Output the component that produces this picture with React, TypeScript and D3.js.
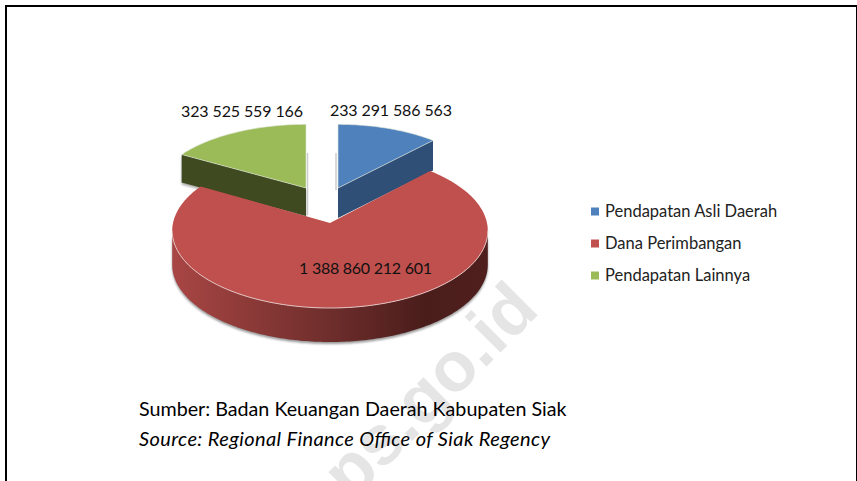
import React from 'react';
import * as d3 from 'd3';

const categories = ['Pendapatan Asli Daerah', 'Dana Perimbangan', 'Pendapatan Lainnya'];
const values = [233291586563, 1388860212601, 323525559166];
const valueLabels = ['233 291 586 563', '1 388 860 212 601', '323 525 559 166'];
const topColors = ['#4f81bd', '#c0504d', '#9bbb59'];
const sideColors = ['#2f4f77', '#7a3230', '#3f4a20'];

const W = 857;
const H = 481;

// where each exploded slice sits: apex, radii, thickness
const sliceLayout = [
  { cx: 338, cy: 188, rx: 149, ry: 70, depth: 30 },
  { cx: 330, cy: 223, rx: 157, ry: 76.5, depth: 34 },
  { cx: 306, cy: 188, rx: 151, ry: 70, depth: 28 },
];
const labelPos = [
  [391, 110],
  [365.5, 268],
  [242, 111],
];
const labelWidths = [122, 133, 122];

const persp = 0.1;

function project(a: number, s: (typeof sliceLayout)[number], dy = 0): [number, number] {
  const w = 1 + persp * Math.cos(a);
  return [s.cx + (s.rx * Math.sin(a)) / w, s.cy - (s.ry * Math.cos(a)) / w + dy];
}

export default function App() {
  const arcs = d3.pie<number>().sort(null)(values);
  const line = d3.line();

  const rim = (i: number, dy = 0) => {
    const { startAngle, endAngle } = arcs[i];
    const n = Math.ceil((endAngle - startAngle) * 60);
    return d3.range(n + 1).map((k) => project(startAngle + ((endAngle - startAngle) * k) / n, sliceLayout[i], dy));
  };
  const top = (i: number) => {
    const s = sliceLayout[i];
    return line([[s.cx, s.cy], ...rim(i)]) + 'Z';
  };

  // red rim wall, only the part facing the viewer
  const redRim = rim(1);
  const iMax = d3.maxIndex(redRim, (d) => d[0]);
  const iMin = d3.minIndex(redRim, (d) => d[0]);
  const front = redRim.slice(iMax, iMin + 1);
  const redDepth = sliceLayout[1].depth;
  const redWall =
    line([...front, ...front.map(([x, y]) => [x, y + redDepth] as [number, number]).reverse()]) + 'Z';
  const redX = d3.extent(front, (d) => d[0]) as [number, number];

  // straight cut faces of the two small slices
  const cutFace = (i: number, a: number) => {
    const s = sliceLayout[i];
    const p = project(a, s);
    return line([[s.cx, s.cy], p, [p[0], p[1] + s.depth], [s.cx, s.cy + s.depth]]) + 'Z';
  };

  const legendY = d3.scalePoint<string>().domain(categories).range([211.5, 275.5]);

  return (
    <svg
      width={W}
      height={H}
      style={{ position: 'absolute', left: 0, top: 0, background: '#fff', fontFamily: 'Lato, Carlito, sans-serif' }}
    >
      <defs>
        <linearGradient id="redWall" gradientUnits="userSpaceOnUse" x1={redX[0]} x2={redX[1]} y1={0} y2={0}>
          <stop offset="0" stopColor="#a84644" />
          <stop offset="0.45" stopColor="#74302e" />
          <stop offset="0.8" stopColor="#4a1d1b" />
          <stop offset="1" stopColor="#4f1f1d" />
        </linearGradient>
        <filter id="soft" x="-10%" y="-10%" width="120%" height="120%">
          <feGaussianBlur stdDeviation="1.2" />
        </filter>
      </defs>

      <text
        transform="translate(541,312) rotate(-45)"
        textAnchor="end"
        fontSize={70}
        fontWeight={700}
        fontFamily="'Liberation Sans', Arial, sans-serif"
        fill="#e5e5e5"
      >
        bps.go.id
      </text>

      <path d={`M6,${H}V6H${W}`} fill="none" stroke="#000" strokeWidth={2} />
      <path d={`M${W - 0.5},6V${H}`} fill="none" stroke="#000" strokeWidth={1} />

      <path d={redWall} transform="translate(0,2)" fill="#999" filter="url(#soft)" />

      {/* grey hairlines of the cut faces on either side of the gap */}
      <path d={`M307.5,153V215`} stroke="#ccc" strokeWidth={1.5} fill="none" />
      <path d={`M336,153V190`} stroke="#ccc" strokeWidth={1.5} fill="none" />

      {[0, 2].map((i) => (
        <g key={i}>
          {i === 2 && (
            <path
              d={cutFace(2, arcs[2].startAngle)}
              transform="translate(0,2)"
              fill="#aaa"
              filter="url(#soft)"
            />
          )}
          <path d={cutFace(i, i === 0 ? arcs[0].endAngle : arcs[2].startAngle)} fill={sideColors[i]} />
          <path d={top(i)} fill={topColors[i]} stroke="#dfe6d8" strokeWidth={0.6} />
        </g>
      ))}

      <path d={redWall} fill="url(#redWall)" />
      <path d={top(1)} fill={topColors[1]} />
      <path d={line(front) ?? ''} fill="none" stroke="#e3c4c3" strokeWidth={1} />

      {valueLabels.map((t, i) => (
        <text
          key={t}
          x={labelPos[i][0]}
          y={labelPos[i][1]}
          dy="0.35em"
          textAnchor="middle"
          fontSize={16}
          textLength={labelWidths[i]}
          fill="#111"
        >
          {t}
        </text>
      ))}

      {categories.map((c) => {
        const i = categories.indexOf(c);
        const y = legendY(c) as number;
        return (
          <g key={c}>
            <rect x={591} y={y - 4} width={8} height={8} fill={topColors[i]} />
            <text x={605} y={y} dy="0.35em" fontSize={16.5} fill="#222">
              {c}
            </text>
          </g>
        );
      })}

      <text x={139} y={409} dy="0.35em" fontSize={19.7} fill="#000">
        Sumber: Badan Keuangan Daerah Kabupaten Siak
      </text>
      <text x={139} y={439} dy="0.35em" fontSize={20} fontStyle="italic" textLength={411} fill="#000">
        Source: Regional Finance Office of Siak Regency
      </text>
    </svg>
  );
}
